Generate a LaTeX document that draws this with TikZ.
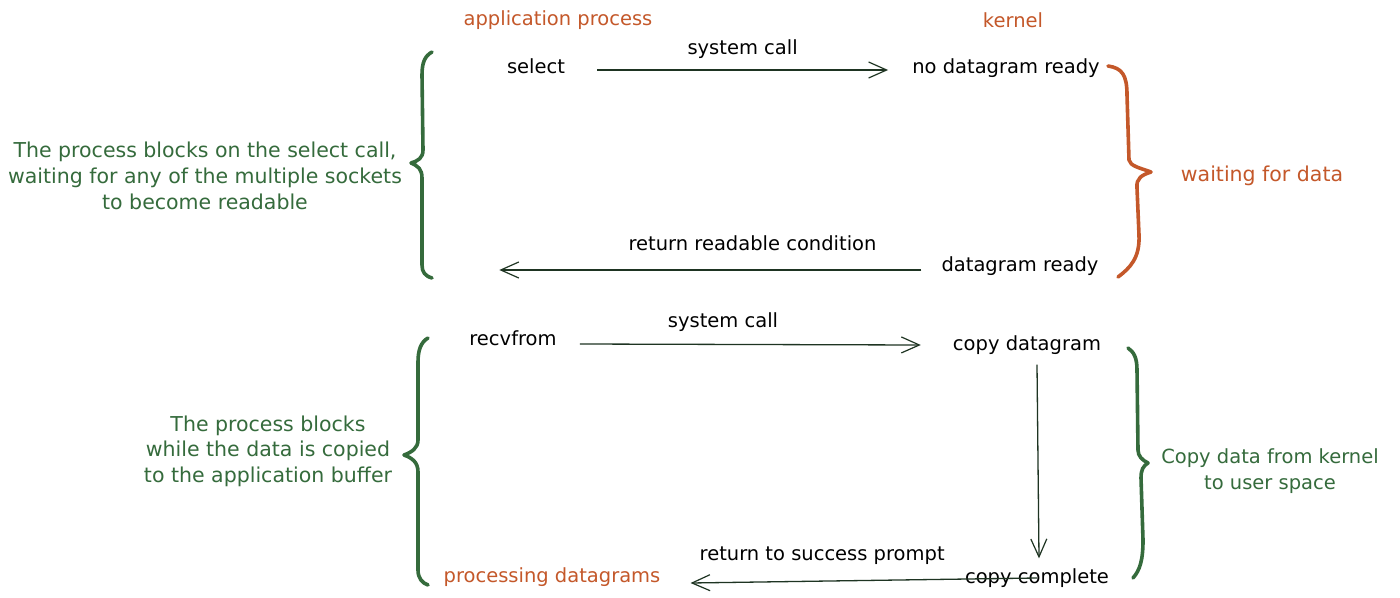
\documentclass[tikz,border=0pt]{standalone}
\usepackage{fontspec}
\setmainfont{DejaVu Sans}
\usetikzlibrary{arrows.meta}
\definecolor{grn}{RGB}{53,107,60}
\definecolor{org}{RGB}{196,88,42}
\definecolor{ink}{RGB}{30,52,34}
\begin{document}
\begin{tikzpicture}[x=1pt,y=-1pt,
  lbl/.style={font=\fontsize{19.5}{24}\selectfont, inner sep=0pt, text=black},
  olbl/.style={font=\fontsize{19.5}{24}\selectfont, inner sep=0pt, text=org},
  glbl/.style={font=\fontsize{20}{26}\selectfont, inner sep=0pt, text=grn, align=center},
  arr/.style={draw=ink, line width=1.3pt, -{Straight Barb[length=18pt,width=16pt,line width=1.2pt]}},
  gbrace/.style={draw=grn, line width=3.6pt, line cap=round, line join=round},
  obrace/.style={draw=org, line width=3.6pt, line cap=round, line join=round}]
\useasboundingbox[fill=white] (0,0) rectangle (1400,597);

% titles
\node[olbl] (ap) at (558,20) {application process};
\node[olbl] (kn) at (1013,20) {kernel};

% first exchange
\node[lbl] (sel) at (536,66) {select};
\node[lbl] (ndr) at (1006,68) {no datagram ready};
\node[lbl] (dr) at (1020,266) {datagram ready};
\draw[arr] ([xshift=32pt,yshift=-4pt]sel.east) -- ([xshift=-24pt,yshift=-2pt]ndr.west)
  node[lbl, midway, yshift=21pt] (sc1) {system call};
\draw[arr] ([xshift=-20pt,yshift=-4pt]dr.west) -- ([xshift=-442pt,yshift=-4pt]dr.west)
  node[lbl, pos=0.4, yshift=27pt] (rrc) {return readable condition};

% second exchange
\node[lbl] (rv) at (513,338) {recvfrom};
\node[lbl] (cd) at (1027,345) {copy datagram};
\node[lbl] (cc) at (1037,578) {copy complete};
\node[olbl] (pd) at (552,577) {processing datagrams};
\draw[arr] ([xshift=23pt,yshift=-6pt]rv.east) -- ([xshift=-32pt,yshift=0pt]cd.west)
  node[lbl, pos=0.42, yshift=22pt] (sc2) {system call};
\draw[arr] ([xshift=10pt,yshift=-10pt]cd.south) -- ([xshift=2pt,yshift=10pt]cc.north);
\draw[arr] ([xshift=72pt,yshift=0pt]cc.west) -- ([xshift=30pt,yshift=-6pt]pd.east)
  node[lbl, pos=0.62, yshift=25pt] (rsp) {return to success prompt};

% side texts
\node[olbl, font=\fontsize{20.5}{24}\selectfont] (wfd) at (1262,176) {waiting for data};
\node[glbl, font=\fontsize{19.5}{26}\selectfont] (cpy) at (1270,471) {Copy data from kernel\\to user space};
\node[glbl, font=\fontsize{20.5}{26}\selectfont] (lt1) at (205,176) {The process blocks on the select call,\\waiting for any of the multiple sockets\\to become readable};
\node[glbl, font=\fontsize{20.5}{25.5}\selectfont] (lt2) at (268,451) {The process blocks\\while the data is copied\\to the application buffer};

% braces
\draw[gbrace] (432,52) .. controls (425,56) and (422,62) .. (422,75) -- (423,150)
  .. controls (423,158) and (418,161) .. (411,163)
  .. controls (418,166) and (422,169) .. (422,178) -- (422,265)
  .. controls (422,272) and (425,276) .. (432,278);
\draw[obrace] (1108,66) .. controls (1122,68) and (1127,75) .. (1127,95) -- (1129,160)
  .. controls (1130,166) and (1140,168) .. (1151,172)
  .. controls (1142,175) and (1136,178) .. (1137,188) -- (1139,235)
  .. controls (1140,258) and (1130,268) .. (1118,277);
\draw[gbrace] (428,338) .. controls (421,342) and (418,350) .. (418,362) -- (418,440)
  .. controls (418,448) and (412,452) .. (404,455)
  .. controls (412,458) and (418,462) .. (418,472) -- (418,570)
  .. controls (418,578) and (422,583) .. (428,585);
\draw[gbrace] (1128,348) .. controls (1134,352) and (1137,358) .. (1137,370) -- (1138,450)
  .. controls (1138,456) and (1142,460) .. (1148,463)
  .. controls (1143,466) and (1141,470) .. (1141,478) -- (1143,540)
  .. controls (1143,560) and (1140,570) .. (1133,578);
\end{tikzpicture}
\end{document}
